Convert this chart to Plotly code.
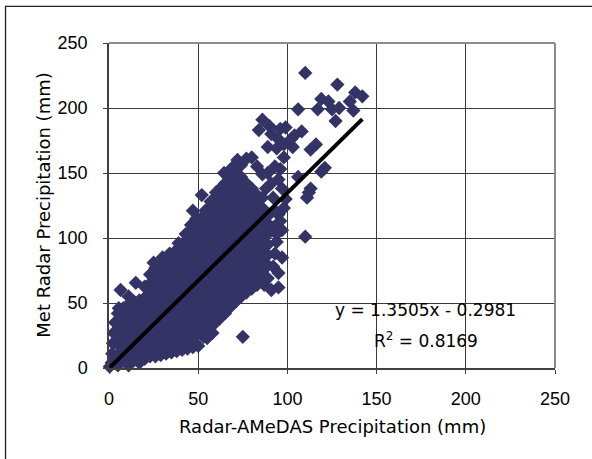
import plotly.graph_objects as go

# Dense part of the scatter, read column by column (mm)
cloud_radar_amedas = [
    0.4, 1.5, 1.8, 2.2, 2.6, 3.4,
    5, 5, 5, 5, 5, 5, 5.5,
    8, 8, 8, 8, 8, 8,
    11, 11, 11, 11, 11, 11, 11,
    14, 14, 14, 14, 14, 14, 14,
    17, 17, 17, 17, 17, 17, 17,
    20, 20, 20, 20, 20, 20, 20,
    23, 23, 23, 23, 23, 23, 23, 23, 23,
    26, 26, 26, 26, 26, 26, 26, 26, 26, 26,
    29, 29, 29, 29, 29, 29, 29, 29, 29, 29,
    32, 32, 32, 32, 32, 32, 32, 32, 32, 32,
    35, 35, 35, 35, 35, 35, 35, 35, 35, 35, 35,
    38, 38, 38, 38, 38, 38, 38, 38, 38, 38, 38,
    41, 41, 41, 41, 41, 41, 41, 41, 41, 41, 41,
    44, 44, 44, 44, 44, 44, 44, 44, 44, 44, 44, 44, 44,
    47, 47, 47, 47, 47, 47, 47, 47, 47, 47, 47, 47, 47,
    50, 50, 50, 50, 50, 50, 50, 50, 50, 50, 50, 50, 50,
    53, 53, 53, 53, 53, 53, 53, 53, 53, 53, 53, 53, 53,
    56, 56, 56, 56, 56, 56, 56, 56, 56, 56, 56, 56, 56,
    59, 59, 59, 59, 59, 59, 59, 59, 59, 59, 59, 59, 59, 59,
    62, 62, 62, 62, 62, 62, 62, 62, 62, 62, 62, 62, 62, 62,
    65, 65, 65, 65, 65, 65, 65, 65, 65, 65, 65, 65, 65, 65,
    68, 68, 68, 68, 68, 68, 68, 68, 68, 68, 68, 68, 68, 68,
    71, 71, 71, 71, 71, 71, 71, 71, 71, 71, 71, 71, 71, 71,
    74, 74, 74, 74, 74, 74, 74, 74, 74, 74, 74, 74, 74,
    77, 77, 77, 77, 77, 77, 77, 77, 77, 77, 77, 77,
    80, 80, 80, 80, 80, 80, 80, 80, 80, 80, 80,
    83, 83, 83, 83, 83, 83, 83, 83, 83, 83,
    86, 86, 86, 86, 86, 86, 86, 86,
    89, 89, 89, 89, 89, 89, 89,
]
cloud_met_radar = [
    1, 4, 11, 19, 27, 35,
    2, 10, 18, 26, 34, 42, 46,
    6, 14, 22, 30, 38, 46,
    2, 10, 18, 26, 34, 42, 49,
    6, 14, 22, 30, 38, 46, 51,
    4, 11, 19, 27, 35, 43, 52,
    7, 15, 23, 31, 39, 47, 54,
    9, 17, 25, 33, 41, 49, 57, 65, 72,
    9, 13, 21, 29, 37, 45, 53, 61, 69, 77,
    10, 17, 25, 33, 41, 49, 57, 65, 73, 80,
    11, 19, 27, 35, 43, 51, 59, 67, 75, 83,
    12, 15, 23, 31, 39, 47, 55, 63, 71, 79, 86,
    13, 19, 27, 35, 43, 51, 59, 67, 75, 83, 91,
    14, 23, 31, 39, 47, 55, 63, 71, 79, 87, 95,
    15, 19, 27, 35, 43, 51, 59, 67, 75, 83, 91, 99, 103,
    16, 23, 31, 39, 47, 55, 63, 71, 79, 87, 95, 103, 107,
    17, 27, 35, 43, 51, 59, 67, 75, 83, 91, 99, 107, 113,
    24, 31, 39, 47, 55, 63, 71, 79, 87, 95, 103, 111, 117,
    30, 35, 43, 51, 59, 67, 75, 83, 91, 99, 107, 115, 123,
    34, 39, 47, 55, 63, 71, 79, 87, 95, 103, 111, 119, 127, 130,
    38, 43, 51, 59, 67, 75, 83, 91, 99, 107, 115, 123, 131, 136,
    42, 47, 55, 63, 71, 79, 87, 95, 103, 111, 119, 127, 135, 142,
    47, 51, 59, 67, 75, 83, 91, 99, 107, 115, 123, 131, 139, 146,
    51, 55, 63, 71, 79, 87, 95, 103, 111, 119, 127, 135, 143, 150,
    55, 59, 67, 75, 83, 91, 99, 107, 115, 123, 131, 139, 147,
    58, 63, 71, 79, 87, 95, 103, 111, 119, 127, 135, 142,
    61, 67, 75, 83, 91, 99, 107, 115, 123, 131, 138,
    64, 71, 79, 87, 95, 103, 111, 119, 127, 133,
    66, 75, 83, 91, 99, 107, 115, 123,
    69, 79, 87, 95, 103, 111, 117,
]

# Sparse points on the fringe of the cloud and the heavy-rain tail (mm)
tail_radar_amedas = [
    6.5, 11, 15, 20,
    25, 30, 34, 39, 43, 46, 47, 49, 52, 54, 57, 60, 63,
    64.5, 67, 69, 72, 74, 77, 80, 83, 86, 89, 93, 91, 95, 97, 99, 98, 95, 92, 88, 86,
    96, 98, 106, 113, 112, 111, 121, 119,
    113, 116,
    86, 84, 91, 99, 108, 95, 89, 102, 94, 98, 104, 90, 96, 103,
    110, 128, 138, 142, 119, 106, 117, 125, 129, 137, 127, 135, 123,
    110, 97, 94, 97, 95, 95, 88, 83, 91, 87, 75, 58, 55,
    92, 93, 94, 92, 96, 93,
]
tail_met_radar = [
    60, 55, 65.5, 62.5,
    81, 85, 88, 96, 103, 110, 121, 115, 133, 121, 128, 135, 139,
    150, 148, 154, 160, 156, 161, 162, 155, 149, 150, 155, 142, 145, 138, 130, 123, 118, 131, 138, 131,
    153, 162, 147, 138, 135, 131, 154, 151,
    168, 172,
    191, 183, 180, 185, 182, 176, 170, 176, 169, 172, 179, 186, 184, 170,
    227, 218, 212, 209, 207, 199, 199, 199, 200, 198, 190, 205, 205,
    101, 106, 103, 85, 73, 62, 69, 68, 60, 64, 24, 27, 23,
    78, 88, 97, 108, 113, 121,
]

# Linear trend reported on the chart
fit_slope = 1.3505
fit_intercept = -0.2981
fit_r2 = 0.8169

axis_ticks = [0, 50, 100, 150, 200, 250]

assert len(cloud_radar_amedas) == len(cloud_met_radar)
assert len(tail_radar_amedas) == len(tail_met_radar)

all_x = cloud_radar_amedas + tail_radar_amedas
all_y = cloud_met_radar + tail_met_radar

trend_x = [min(all_x), max(all_x)]
trend_y = [fit_slope * v + fit_intercept for v in trend_x]

MARKER = "#333366"
TICK_FONT = dict(family="Liberation Sans, Arial, sans-serif", size=18, color="#000000")
TEXT_FONT = "DejaVu Sans, sans-serif"

fig = go.Figure()
fig.add_trace(go.Scatter(
    x=all_x, y=all_y, mode="markers",
    marker=dict(symbol="diamond", size=11, color=MARKER, line=dict(width=0)),
    cliponaxis=False, showlegend=False, hoverinfo="x+y",
))
fig.add_trace(go.Scatter(
    x=trend_x, y=trend_y, mode="lines",
    line=dict(color="#000000", width=4),
    cliponaxis=False, showlegend=False, hoverinfo="skip",
))

axis_common = dict(
    range=[0, 250], tickvals=axis_ticks, ticktext=[str(t) for t in axis_ticks],
    showgrid=True, gridcolor="#3a3a3a", gridwidth=1,
    zeroline=False, showline=True, linecolor="#404040", linewidth=1.5,
    ticks="outside", ticklen=4, tickcolor="#404040",
    tickfont=TICK_FONT, fixedrange=True,
)
fig.update_xaxes(**axis_common, ticklabelstandoff=10)
fig.update_yaxes(**axis_common, ticklabelstandoff=12)

# plot-area border (top and right) and the outer chart frame
shapes = [
    dict(type="line", xref="paper", yref="paper", x0=0, x1=1, y0=1, y1=1,
         line=dict(color="#8c8c8c", width=2)),
    dict(type="line", xref="paper", yref="paper", x0=1, x1=1, y0=0, y1=1,
         line=dict(color="#8c8c8c", width=2)),
    dict(type="rect", xref="paper", yref="paper", x0=-0.232, x1=1.2, y0=-0.5, y1=1.113,
         line=dict(color="#222222", width=1.3), fillcolor="rgba(0,0,0,0)", layer="below"),
]

annotations = [
    dict(text="Radar-AMeDAS Precipitation (mm)", xref="paper", yref="paper",
         x=0.5, y=-0.179, xanchor="center", yanchor="middle", showarrow=False,
         font=dict(family=TEXT_FONT, size=18, color="#000000")),
    dict(text="Met Radar Precipitation (mm)", xref="paper", yref="paper",
         x=-0.1475, y=0.5, xanchor="center", yanchor="middle", textangle=-90,
         showarrow=False, font=dict(family=TEXT_FONT, size=18, color="#000000")),
    dict(text=f"y = {fit_slope}x - {abs(fit_intercept)}", xref="x", yref="y",
         x=177.2, y=44.4, xanchor="center", yanchor="middle", showarrow=False,
         font=dict(family=TEXT_FONT, size=17, color="#000000")),
    dict(text=f"R<sup>2</sup> = {fit_r2}", xref="x", yref="y",
         x=177.9, y=21.3, xanchor="center", yanchor="middle", showarrow=False,
         font=dict(family=TEXT_FONT, size=17, color="#000000")),
]

fig.update_layout(
    width=592, height=459,
    margin=dict(l=109, r=37, t=43, b=91),
    paper_bgcolor="#ffffff", plot_bgcolor="#ffffff",
    shapes=shapes, annotations=annotations,
    showlegend=False,
)

fig.write_html("out.html")
